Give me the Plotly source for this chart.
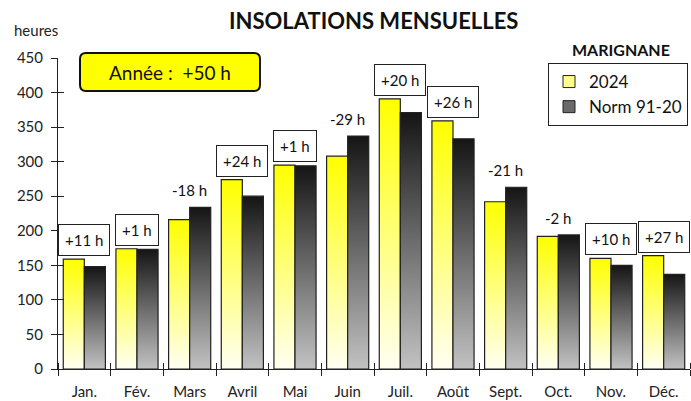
import plotly.graph_objects as go

months = ["Jan.", "Fév.", "Mars", "Avril", "Mai", "Juin", "Juil.", "Août", "Sept.", "Oct.", "Nov.", "Déc."]
insol_2024 = [159, 174, 216, 274, 295, 308, 391, 359, 242, 192, 160, 164]
norm_91_20 = [148, 173, 234, 250, 294, 337, 371, 333, 263, 194, 150, 137]
y_ticks = [0, 50, 100, 150, 200, 250, 300, 350, 400, 450]

FONT = "Lato"
W, H = 691, 401
L, R, T, B = 58, 1, 58, 32
PW, PH = W - L - R, H - T - B

fig = go.Figure()

BW = 0.4
series = [
    ("2024", insol_2024, -BW, [[0, "#FFFFF2"], [1, "#FFFF00"]], "#FFFF8A"),
    ("Norm 91-20", norm_91_20, 0.0, [[0, "#C2C2C2"], [1, "#151515"]], "#6A6A6A"),
]
for name, vals, off, cs, swatch in series:
    for i, v in enumerate(vals):
        x0, x1 = i + off, i + off + BW
        fig.add_trace(go.Scatter(
            x=[x0, x0, x1, x1, x0], y=[0, v, v, 0, 0],
            mode="lines", fill="toself",
            fillgradient=dict(type="vertical", colorscale=cs),
            line=dict(color="#222222", width=1.2),
            name=name, showlegend=False,
            hoverinfo="skip",
        ))
    # legend-only entry with a small square swatch
    fig.add_trace(go.Bar(
        x=[None], y=[None], name=name, legendgroup=name,
        marker=dict(color=swatch, line=dict(color="#222222", width=1)),
    ))

# difference labels
diffs = [a - b for a, b in zip(insol_2024, norm_91_20)]
for i, d in enumerate(diffs):
    txt = f"{d:+d} h"
    top = max(insol_2024[i], norm_91_20[i])
    boxed = d > 0
    fig.add_annotation(
        x=i, y=top, xref="x", yref="y", text=txt, showarrow=False,
        xanchor="center", yanchor="bottom", yshift=3 if boxed else 5,
        font=dict(family=FONT, size=15, color="#111111"),
        bgcolor="white" if boxed else "rgba(0,0,0,0)",
        bordercolor="#222222" if boxed else "rgba(0,0,0,0)",
        borderwidth=1, borderpad=6 if boxed else 2,
    )

def px_x(p):
    return (p - L) / PW

def px_y(p):
    return (H - B - p) / PH

# yearly total box (rounded rectangle)
bx0, bx1, by0, by1, r = 80, 260, 53, 91, 6
path = (
    f"M {px_x(bx0 + r)},{px_y(by0)} L {px_x(bx1 - r)},{px_y(by0)} "
    f"Q {px_x(bx1)},{px_y(by0)} {px_x(bx1)},{px_y(by0 + r)} "
    f"L {px_x(bx1)},{px_y(by1 - r)} Q {px_x(bx1)},{px_y(by1)} {px_x(bx1 - r)},{px_y(by1)} "
    f"L {px_x(bx0 + r)},{px_y(by1)} Q {px_x(bx0)},{px_y(by1)} {px_x(bx0)},{px_y(by1 - r)} "
    f"L {px_x(bx0)},{px_y(by0 + r)} Q {px_x(bx0)},{px_y(by0)} {px_x(bx0 + r)},{px_y(by0)} Z"
)
fig.add_shape(type="path", path=path, xref="paper", yref="paper",
              fillcolor="#FFFF00", line=dict(color="#111111", width=2), layer="above")
fig.add_annotation(x=px_x((bx0 + bx1) / 2), y=px_y((by0 + by1) / 2), xref="paper", yref="paper",
                   xanchor="center", yanchor="middle",
                   text=f"Année :  {sum(diffs):+d} h", showarrow=False,
                   font=dict(family=FONT, size=19, color="#111111"))

# titles
fig.add_annotation(x=px_x(373), y=px_y(20), xref="paper", yref="paper",
                   xanchor="center", yanchor="middle",
                   text="<b>INSOLATIONS MENSUELLES</b>", showarrow=False,
                   font=dict(family=FONT, size=22, color="#111111"))
fig.add_annotation(x=px_x(621), y=px_y(49), xref="paper", yref="paper",
                   xanchor="center", yanchor="middle",
                   text="<b>MARIGNANE</b>", showarrow=False,
                   font=dict(family=FONT, size=16, color="#111111"))
fig.add_annotation(x=px_x(36), y=px_y(30), xref="paper", yref="paper",
                   xanchor="center", yanchor="middle",
                   text="heures", showarrow=False,
                   font=dict(family=FONT, size=15, color="#222222"))

boundaries = [i + 0.5 for i in range(-1, len(months))]

fig.update_layout(
    width=W, height=H,
    margin=dict(l=L, r=R, t=T, b=B),
    paper_bgcolor="white", plot_bgcolor="white",
    font=dict(family=FONT, size=15, color="#222222"),
    showlegend=True,
    legend=dict(
        x=px_x(688), y=px_y(63), xanchor="right", yanchor="top",
        bgcolor="white", bordercolor="#222222", borderwidth=1,
        font=dict(family=FONT, size=17, color="#111111"),
        tracegroupgap=0, traceorder="normal",
    ),
    xaxis=dict(
        range=[-0.5, len(months) - 0.5], tickmode="array",
        tickvals=list(range(len(months))), ticktext=months,
        ticks="", showgrid=False, zeroline=False,
        showline=True, linecolor="#222222", linewidth=1,
        ticklabelstandoff=9,
        minor=dict(tickmode="array", tickvals=boundaries, ticks="outside",
                   ticklen=6, tickcolor="#222222", showgrid=False),
        tickfont=dict(family=FONT, size=15, color="#222222"),
    ),
    yaxis=dict(
        range=[0, 450], tickmode="array", tickvals=y_ticks,
        ticks="outside", ticklen=6, tickcolor="#222222",
        showgrid=False, zeroline=False, ticklabelstandoff=5,
        showline=True, linecolor="#222222", linewidth=1,
        tickfont=dict(family=FONT, size=15, color="#222222"),
    ),
    xaxis2=dict(
        overlaying="x", range=[-0.5, len(months) - 0.5], showticklabels=False,
        tickmode="array", tickvals=[], showgrid=False, zeroline=False,
        minor=dict(tickmode="array", tickvals=boundaries, ticks="inside",
                   ticklen=6, tickcolor="#222222", showgrid=False),
        side="bottom",
    ),
    yaxis2=dict(
        overlaying="y", range=[0, 450], tickmode="array", tickvals=y_ticks,
        ticks="inside", ticklen=6, tickcolor="#222222", showticklabels=False,
        showgrid=False, zeroline=False, side="left",
    ),
)
# dummy trace to activate the secondary axes
fig.add_trace(go.Scatter(x=[None], y=[None], xaxis="x2", yaxis="y2",
                         showlegend=False, hoverinfo="skip"))

fig.write_html("out.html", config={"displayModeBar": False},
               post_script="document.body.style.margin='0';document.body.style.overflow='hidden';")
